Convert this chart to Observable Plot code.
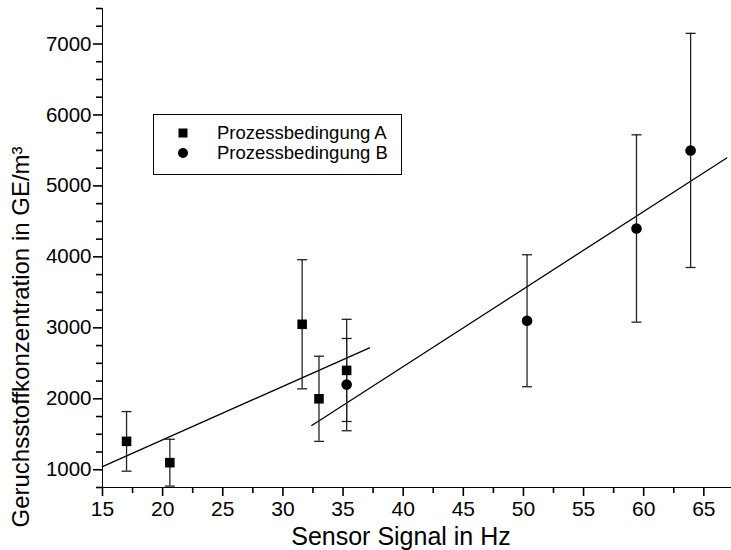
<!DOCTYPE html>
<html>
<head>
<meta charset="utf-8">
<script src="https://cdn.jsdelivr.net/npm/d3@7"></script>
<script src="https://cdn.jsdelivr.net/npm/@observablehq/plot@0.6"></script>
<style>
  html, body { margin: 0; padding: 0; background: #fff; }
  #wrap { position: relative; width: 731px; height: 550px; font-family: "Liberation Sans", Arial, sans-serif; }
  #legend { position: absolute; left: 153px; top: 114px; width: 249px; height: 61px; border: 1.2px solid #000; background: #fff; box-sizing: border-box; }
  .item { position: absolute; left: 0; height: 22px; line-height: 22px; display: flex; align-items: center; font-size: 18.5px; color: #000; }
  .item svg { margin-left: 23px; margin-right: 28px; }
</style>
</head>
<body>
<div id="wrap"><div id="chart"></div><div id="legend"></div></div>
<script>
// Series names
const seriesNames = ["Prozessbedingung A", "Prozessbedingung B"];

// Prozessbedingung A (squares)
const xA = [17.0, 20.6, 31.6, 33.0, 35.3];
const yA = [1400, 1100, 3050, 2000, 2400];
const errA = [420, 330, 910, 600, 720];

// Prozessbedingung B (circles)
const xB = [35.3, 50.3, 59.4, 63.9];
const yB = [2200, 3100, 4400, 5500];
const errB = [650, 930, 1320, 1650];

// Regression lines (endpoints)
const fitAx = [15.0, 37.2];
const fitAy = [1045, 2718];
const fitBx = [32.4, 66.9];
const fitBy = [1624, 5394];

// Axis ticks
const xMajor = [15, 20, 25, 30, 35, 40, 45, 50, 55, 60, 65];
const xMinor = [17.5, 22.5, 27.5, 32.5, 37.5, 42.5, 47.5, 52.5, 57.5, 62.5];
const yMajor = [1000, 2000, 3000, 4000, 5000, 6000, 7000];
const yMinor = [750, 1250, 1500, 1750, 2250, 2500, 2750, 3250, 3500, 3750, 4250, 4500, 4750, 5250, 5500, 5750, 6250, 6500, 6750, 7250, 7500];
const xDomain = [15, 67.3];
const yDomain = [750, 7500];

const xLabel = "Sensor Signal in Hz";
const yLabel = "Geruchsstoffkonzentration in GE/m³";

const dataA = xA.map((x, i) => ({x, y: yA[i], e: errA[i]}));
const dataB = xB.map((x, i) => ({x, y: yB[i], e: errB[i]}));
const caps = [...dataA, ...dataB].flatMap(d => [{x: d.x, y: d.y - d.e}, {x: d.x, y: d.y + d.e}]);
const fitA = fitAx.map((x, i) => ({x, y: fitAy[i]}));
const fitB = fitBx.map((x, i) => ({x, y: fitBy[i]}));

const capSymbol = {
  draw(context, size) {
    const w = Math.sqrt(size / Math.PI);
    context.moveTo(-w, 0);
    context.lineTo(w, 0);
  }
};

const chart = Plot.plot({
  width: 731,
  height: 550,
  marginLeft: 102,
  marginRight: 0,
  marginTop: 8,
  marginBottom: 63,
  x: {domain: xDomain},
  y: {domain: yDomain},
  style: {fontFamily: "'Liberation Sans', Arial, sans-serif", background: "#fff", color: "#000"},
  marks: [
    Plot.axisX({ticks: xMajor, tickSize: 9, tickPadding: 5, fontSize: 21, strokeWidth: 1.6, label: null, tickFormat: d => String(d)}),
    Plot.axisX({ticks: xMinor, tickSize: 6, strokeWidth: 1.6, fill: "none", label: null}),
    Plot.axisY({ticks: yMajor, tickSize: 9, tickPadding: 2, fontSize: 20.5, strokeWidth: 1.6, label: null, tickFormat: d => String(d)}),
    Plot.axisY({ticks: yMinor, tickSize: 6, strokeWidth: 1.6, fill: "none", label: null}),
    Plot.ruleY([yDomain[0]], {stroke: "#000", strokeWidth: 1}),
    Plot.ruleX([xDomain[0]], {stroke: "#000", strokeWidth: 1}),
    Plot.line(fitA, {x: "x", y: "y", stroke: "#000", strokeWidth: 1.3}),
    Plot.line(fitB, {x: "x", y: "y", stroke: "#000", strokeWidth: 1.3}),
    Plot.ruleX(dataA, {x: "x", y1: d => d.y - d.e, y2: d => d.y + d.e, stroke: "#222", strokeWidth: 1.3}),
    Plot.ruleX(dataB, {x: "x", y1: d => d.y - d.e, y2: d => d.y + d.e, stroke: "#222", strokeWidth: 1.3}),
    Plot.dot(caps, {x: "x", y: "y", symbol: capSymbol, r: 5, fill: "none", stroke: "#222", strokeWidth: 1.3}),
    Plot.dot(dataA, {x: "x", y: "y", symbol: "square", r: 5.4, fill: "#000", stroke: "none"}),
    Plot.dot(dataB, {x: "x", y: "y", symbol: "circle", r: 5.3, fill: "#000", stroke: "none"}),
    Plot.text([xLabel], {text: d => d, frameAnchor: "bottom", lineAnchor: "bottom", dx: -16, dy: 57, fontSize: 25, fill: "#000"}),
    Plot.text([yLabel], {text: d => d, frameAnchor: "bottom-left", rotate: -90, textAnchor: "start", lineAnchor: "middle", dx: -81, dy: 40, fontSize: 24, fill: "#000"})
  ]
});
document.getElementById("chart").appendChild(chart);

// Legend
const legend = document.getElementById("legend");
const symbols = ["square", "circle"];
seriesNames.forEach((name, i) => {
  const item = document.createElement("div");
  item.className = "item";
  item.style.top = (7 + i * 20) + "px";
  const sym = symbols[i] === "square"
    ? '<svg width="12" height="12"><rect x="1.5" y="1.5" width="9" height="9" fill="#000"/></svg>'
    : '<svg width="12" height="12"><circle cx="6" cy="6" r="5" fill="#000"/></svg>';
  item.innerHTML = sym + '<span>' + name + '</span>';
  legend.appendChild(item);
});
</script>
</body>
</html>
